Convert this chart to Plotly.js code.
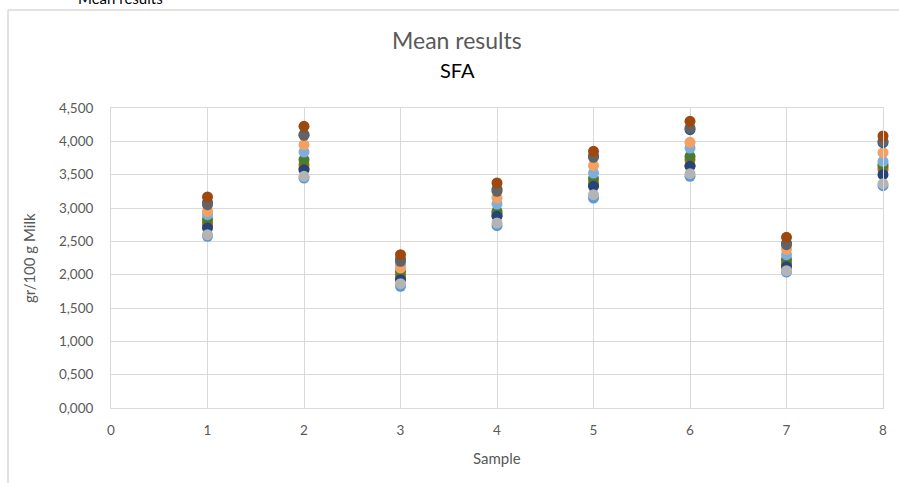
<!DOCTYPE html>
<html>
<head>
<meta charset="utf-8">
<script src="https://cdn.plot.ly/plotly-3.0.1.min.js"></script>
<style>html,body{margin:0;padding:0;background:#fff;}#chart{width:899px;height:483px;}</style>
</head>
<body>
<div id="chart"></div>
<script>
// Sample numbers (x)
const samples = [1, 2, 3, 4, 5, 6, 7, 8];

// Series values, gr/100 g Milk
const seriesLightBlue = [2.575, 3.450, 1.825, 2.735, 3.150, 3.475, 2.040, 3.335];
const seriesRed       = [2.740, 3.590, 1.950, 2.890, 3.340, 3.640, 2.160, 3.575];
const seriesOlive     = [2.780, 3.650, 2.000, 2.920, 3.375, 3.725, 2.180, 3.615];
const seriesGreen     = [2.830, 3.725, 2.050, 2.950, 3.440, 3.775, 2.230, 3.650];
const seriesSkyBlue   = [2.900, 3.840, 2.150, 3.060, 3.525, 3.900, 2.300, 3.700];
const seriesOrange    = [2.950, 3.950, 2.100, 3.150, 3.635, 3.985, 2.380, 3.830];
const seriesSteelBlue = [3.080, 4.100, 2.230, 3.280, 3.780, 4.175, 2.470, 3.980];
const seriesDarkGray  = [3.050, 4.090, 2.200, 3.250, 3.760, 4.200, 2.450, 4.000];
const seriesBrown     = [3.165, 4.225, 2.300, 3.375, 3.850, 4.300, 2.560, 4.080];
const seriesDarkBlue  = [2.700, 3.575, 1.925, 2.875, 3.325, 3.625, 2.120, 3.500];
const seriesGray      = [2.600, 3.475, 1.865, 2.775, 3.200, 3.515, 2.060, 3.365];

const seriesList = [
  {y: seriesLightBlue, c: '#5B9BD5'},
  {y: seriesRed,       c: '#E5493A'},
  {y: seriesOlive,     c: '#997300'},
  {y: seriesGreen,     c: '#4E7A2E'},
  {y: seriesSkyBlue,   c: '#7CAFDD'},
  {y: seriesOrange,    c: '#F4A064'},
  {y: seriesSteelBlue, c: '#255E91'},
  {y: seriesDarkGray,  c: '#636363'},
  {y: seriesBrown,     c: '#9E480E'},
  {y: seriesDarkBlue,  c: '#264478'},
  {y: seriesGray,      c: '#B4B4B4'}
];

const traces = seriesList.map(s => ({
  type: 'scatter', mode: 'markers', x: samples, y: s.y,
  marker: {size: 11, color: s.c, line: {width: 0}},
  cliponaxis: false, hoverinfo: 'x+y'
}));

// pixel helpers for paper coords (plot area x 111..883, y 108..408)
const px = v => (v - 111) / 772;
const py = v => (408 - v) / 300;
const grid = '#D9D9D9';
const fam = 'Lato, "Open Sans", sans-serif';
const tickFont = {family: fam, size: 13.5, color: '#595959'};

const layout = {
  width: 899, height: 483,
  margin: {l: 111, r: 16, t: 108, b: 75},
  paper_bgcolor: '#fff', plot_bgcolor: '#fff',
  showlegend: false,
  separators: ',.',
  xaxis: {
    range: [0, 8], dtick: 1, tick0: 0, showgrid: true, gridcolor: grid, gridwidth: 1,
    zeroline: false, showline: true, linecolor: grid, linewidth: 1, mirror: true,
    ticks: '', tickfont: tickFont, ticklabelstandoff: 10, fixedrange: true
  },
  yaxis: {
    range: [0, 4.5], dtick: 0.5, tick0: 0, tickformat: '.3f', showgrid: true, gridcolor: grid, gridwidth: 1,
    zeroline: false, showline: true, linecolor: grid, linewidth: 1, mirror: true,
    ticks: '', tickfont: tickFont, ticklabelstandoff: 14, fixedrange: true
  },
  shapes: [
    {type: 'line', xref: 'paper', yref: 'paper', x0: px(8), x1: px(8), y0: py(10), y1: py(490), line: {color: '#D9D9D9', width: 1.5}},
    {type: 'line', xref: 'paper', yref: 'paper', x0: px(8), x1: px(905), y0: py(10), y1: py(10), line: {color: '#D9D9D9', width: 1.5}}
  ],
  annotations: [
    {text: 'Mean results', xref: 'paper', yref: 'paper', x: px(120), y: py(-2), xanchor: 'center', yanchor: 'middle', showarrow: false,
     font: {family: fam, size: 15, color: '#000'}},
    {text: 'Mean results', xref: 'paper', yref: 'paper', x: px(457), y: py(40), xanchor: 'center', yanchor: 'middle', showarrow: false,
     font: {family: fam, size: 23, color: '#595959'}},
    {text: 'SFA', xref: 'paper', yref: 'paper', x: px(457), y: py(70), xanchor: 'center', yanchor: 'middle', showarrow: false,
     font: {family: fam, size: 20, color: '#000'}},
    {text: 'Sample', xref: 'paper', yref: 'paper', x: px(497), y: py(458), xanchor: 'center', yanchor: 'middle', showarrow: false,
     font: {family: fam, size: 15, color: '#595959'}},
    {text: 'gr/100 g Milk', xref: 'paper', yref: 'paper', x: px(29), y: py(258), xanchor: 'center', yanchor: 'middle', showarrow: false, textangle: -90,
     font: {family: fam, size: 15, color: '#595959'}}
  ]
};

Plotly.newPlot('chart', traces, layout, {displayModeBar: false, staticPlot: true});
</script>
</body>
</html>
